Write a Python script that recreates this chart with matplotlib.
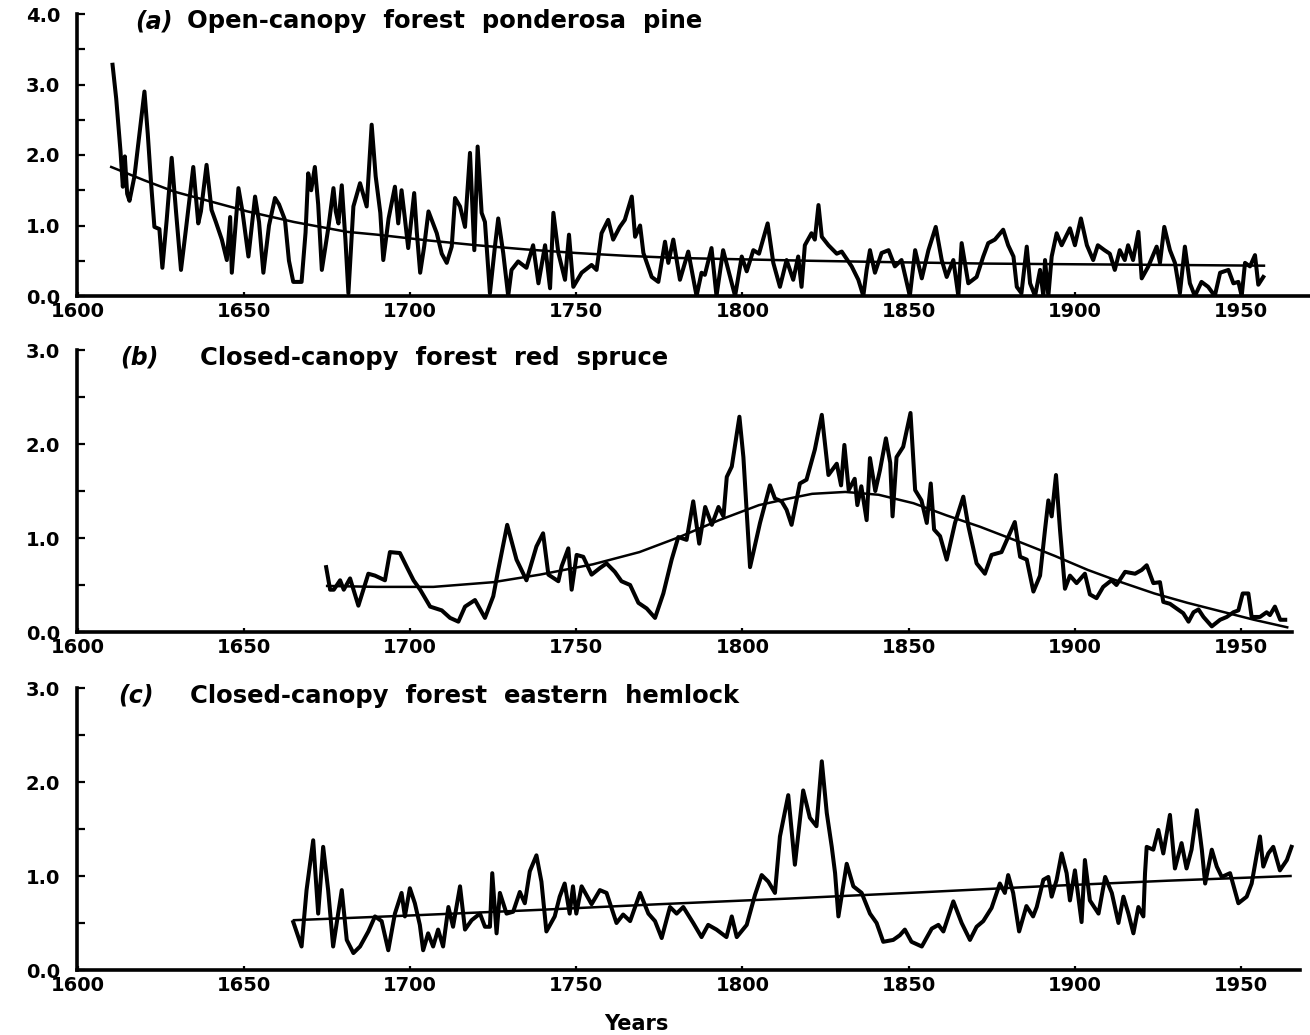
import matplotlib
matplotlib.use("Agg")
import matplotlib.pyplot as plt
from matplotlib.ticker import MultipleLocator, FormatStrFormatter

# ---- (a) open-canopy ponderosa pine: ring-width index ----
pine_years = [
    1610.4, 1611.5, 1612.8, 1613.5, 1614.1, 1614.8, 1615.5, 1617.0, 1618.5, 1620.0,
    1621.0, 1622.0, 1623.0, 1624.5, 1625.4, 1626.7, 1628.2, 1629.5, 1631.0, 1632.5,
    1634.7, 1636.2, 1637.0, 1638.7, 1640.2, 1641.5, 1643.3, 1644.8, 1645.8, 1646.3,
    1648.3, 1649.5, 1651.3, 1653.3, 1654.5, 1655.8, 1657.5, 1659.3, 1660.5, 1662.3,
    1663.5, 1664.8, 1667.3, 1668.5, 1669.3, 1670.2, 1671.3, 1672.3, 1673.4, 1675.4,
    1676.9, 1677.6, 1678.4, 1679.4, 1680.5, 1681.4, 1682.9, 1684.9, 1686.9, 1688.4,
    1689.6, 1691.0, 1691.9, 1693.5, 1695.4, 1696.4, 1697.4, 1698.4, 1699.4, 1701.2,
    1702.0, 1703.0, 1704.2, 1705.5, 1708.0, 1709.5, 1711.0, 1712.5, 1713.5, 1715.0,
    1716.5, 1718.0, 1719.3, 1720.3, 1721.5, 1722.5, 1724.0, 1725.5, 1726.5, 1728.0,
    1729.5, 1730.5, 1732.5, 1735.0, 1737.0, 1738.6, 1740.6, 1742.1, 1743.1, 1744.6,
    1746.6, 1747.8, 1749.1, 1751.6, 1754.6, 1756.1, 1757.6, 1759.6, 1761.1, 1763.1,
    1764.6, 1766.7, 1767.7, 1769.2, 1770.2, 1772.7, 1774.7, 1776.7, 1777.7, 1779.2,
    1781.2, 1783.7, 1786.2, 1787.7, 1788.7, 1790.7, 1792.2, 1794.2, 1796.3, 1797.8,
    1799.8, 1801.3, 1803.3, 1805.0, 1807.6, 1809.3, 1811.3, 1813.3, 1815.3, 1816.8,
    1817.8, 1818.8, 1820.8, 1821.8, 1822.9, 1823.9, 1825.9, 1828.4, 1829.9, 1830.9,
    1832.9, 1834.9, 1836.4, 1837.4, 1838.4, 1839.9, 1841.9, 1844.0, 1845.9, 1847.9,
    1850.4, 1852.0, 1854.0, 1856.0, 1858.2, 1860.0, 1861.5, 1863.5, 1865.0, 1866.0,
    1868.0, 1870.5, 1872.5, 1874.0, 1876.0, 1878.5, 1880.0, 1881.6, 1882.6, 1884.0,
    1885.6, 1886.6, 1888.1, 1889.6, 1890.6, 1891.1, 1892.1, 1893.1, 1894.6, 1896.1,
    1898.6, 1900.1, 1901.9, 1903.7, 1905.6, 1907.0, 1909.0, 1910.6, 1912.1, 1913.6,
    1915.1, 1916.1, 1917.6, 1919.2, 1920.2, 1922.2, 1924.7, 1925.7, 1927.0, 1928.7,
    1930.2, 1931.7, 1933.2, 1934.7, 1936.2, 1938.2, 1940.2, 1942.2, 1943.8, 1946.3,
    1947.8, 1949.3, 1950.3, 1951.3, 1952.8, 1954.3, 1955.3, 1956.8,
]
pine_index = [
    3.28, 2.80, 2.05, 1.55, 1.98, 1.45, 1.35, 1.70, 2.30, 2.90,
    2.30, 1.60, 0.98, 0.95, 0.40, 1.08, 1.96, 1.20, 0.37, 0.95,
    1.83, 1.03, 1.20, 1.86, 1.22, 1.05, 0.80, 0.51, 1.12, 0.33,
    1.53, 1.20, 0.56, 1.41, 1.05, 0.33, 1.00, 1.39, 1.30, 1.08,
    0.50, 0.20, 0.20, 0.90, 1.74, 1.50, 1.83, 1.30, 0.37, 0.98,
    1.53, 1.20, 1.03, 1.57, 0.80, 0.04, 1.27, 1.60, 1.27, 2.43,
    1.70, 1.18, 0.51, 1.10, 1.55, 1.03, 1.50, 1.10, 0.68, 1.46,
    0.90, 0.33, 0.70, 1.20, 0.89, 0.60, 0.47, 0.70, 1.39, 1.27,
    0.98, 2.03, 0.65, 2.12, 1.18, 1.05, 0.04, 0.70, 1.10, 0.61,
    0.00, 0.37, 0.49, 0.40, 0.72, 0.18, 0.72, 0.11, 1.18, 0.61,
    0.23, 0.87, 0.13, 0.33, 0.44, 0.37, 0.89, 1.08, 0.80, 0.98,
    1.08, 1.41, 0.84, 1.00, 0.61, 0.27, 0.20, 0.77, 0.47, 0.80,
    0.23, 0.63, 0.00, 0.33, 0.30, 0.68, 0.00, 0.65, 0.27, 0.00,
    0.56, 0.35, 0.65, 0.60, 1.03, 0.47, 0.13, 0.51, 0.23, 0.56,
    0.13, 0.72, 0.89, 0.80, 1.29, 0.84, 0.72, 0.60, 0.63, 0.56,
    0.42, 0.23, 0.00, 0.37, 0.65, 0.33, 0.61, 0.65, 0.42, 0.51,
    0.00, 0.65, 0.25, 0.65, 0.98, 0.51, 0.27, 0.51, 0.00, 0.75,
    0.18, 0.27, 0.56, 0.75, 0.80, 0.94, 0.72, 0.56, 0.13, 0.04,
    0.70, 0.18, 0.00, 0.37, 0.00, 0.51, 0.00, 0.56, 0.89, 0.72,
    0.96, 0.72, 1.10, 0.72, 0.51, 0.72, 0.65, 0.60, 0.37, 0.65,
    0.51, 0.72, 0.51, 0.91, 0.25, 0.42, 0.70, 0.47, 0.98, 0.65,
    0.47, 0.04, 0.70, 0.18, 0.00, 0.20, 0.13, 0.00, 0.33, 0.37,
    0.18, 0.20, 0.00, 0.47, 0.42, 0.58, 0.16, 0.27,
]
pine_trend_years = [1610, 1620, 1629, 1640, 1651, 1665, 1681, 1690, 1705, 1720,
                    1735, 1750, 1765, 1780, 1800, 1820, 1845, 1873, 1900, 1930, 1957]
pine_trend = [1.83, 1.64, 1.48, 1.34, 1.20, 1.05, 0.91, 0.87, 0.79, 0.72,
              0.66, 0.61, 0.57, 0.54, 0.52, 0.50, 0.48, 0.46, 0.45, 0.44, 0.43]

# ---- (b) closed-canopy red spruce ----
spruce_years = [
    1674.7, 1675.9, 1677.0, 1678.9, 1680.0, 1681.9, 1684.4, 1687.4, 1689.4, 1692.4,
    1693.9, 1696.9, 1699.0, 1701.0, 1703.0, 1706.0, 1709.5, 1712.0, 1714.5, 1716.5,
    1719.5, 1722.5, 1725.0, 1726.5, 1729.2, 1732.0, 1735.0, 1738.0, 1740.0, 1741.6,
    1744.6, 1745.6, 1747.6, 1748.6, 1750.1, 1752.1, 1754.6, 1757.1, 1759.1, 1761.6,
    1763.6, 1766.2, 1768.7, 1771.2, 1773.7, 1776.2, 1778.7, 1780.7, 1783.2, 1785.2,
    1787.0, 1788.8, 1790.8, 1792.8, 1794.3, 1795.3, 1796.8, 1799.1, 1800.3, 1802.3,
    1805.3, 1808.3, 1809.8, 1811.8, 1813.3, 1814.8, 1817.3, 1819.3, 1821.8, 1823.9,
    1825.9, 1828.4, 1829.7, 1830.7, 1832.0, 1833.8, 1834.6, 1835.8, 1837.4, 1838.4,
    1840.0, 1841.4, 1843.2, 1844.5, 1845.2, 1846.4, 1848.4, 1850.6, 1852.0, 1853.9,
    1855.5, 1856.7, 1857.7, 1859.5, 1861.5, 1864.0, 1866.5, 1868.0, 1870.5, 1873.0,
    1875.0, 1878.0, 1882.0, 1883.6, 1885.6, 1887.6, 1889.6, 1891.1, 1892.1, 1893.1,
    1894.4, 1895.6, 1897.1, 1898.6, 1900.6, 1903.1, 1904.6, 1906.6, 1908.6, 1911.1,
    1912.6, 1915.2, 1918.2, 1920.2, 1921.7, 1923.7, 1925.7, 1926.7, 1928.7, 1930.7,
    1932.7, 1934.3, 1935.8, 1937.3, 1938.8, 1941.3, 1943.8, 1945.8, 1947.8, 1949.3,
    1950.6, 1952.3, 1953.3, 1955.8, 1957.8, 1958.8, 1960.3, 1961.9, 1963.4,
]
spruce_index = [
    0.69, 0.45, 0.45, 0.55, 0.45, 0.57, 0.28, 0.62, 0.60, 0.55,
    0.85, 0.84, 0.69, 0.55, 0.45, 0.27, 0.23, 0.15, 0.11, 0.27,
    0.34, 0.15, 0.38, 0.66, 1.14, 0.77, 0.55, 0.91, 1.05, 0.61,
    0.54, 0.70, 0.89, 0.45, 0.82, 0.80, 0.61, 0.68, 0.73, 0.64,
    0.54, 0.50, 0.31, 0.25, 0.15, 0.41, 0.77, 1.01, 0.98, 1.39,
    0.94, 1.33, 1.14, 1.33, 1.23, 1.65, 1.76, 2.29, 1.86, 0.69,
    1.16, 1.56, 1.42, 1.39, 1.30, 1.14, 1.58, 1.62, 1.94, 2.31,
    1.67, 1.79, 1.56, 1.99, 1.51, 1.63, 1.35, 1.55, 1.19, 1.85,
    1.50, 1.72, 2.06, 1.80, 1.23, 1.86, 1.97, 2.33, 1.51, 1.40,
    1.16, 1.58, 1.09, 1.02, 0.77, 1.16, 1.44, 1.13, 0.73, 0.62,
    0.82, 0.85, 1.17, 0.80, 0.77, 0.43, 0.60, 1.09, 1.40, 1.23,
    1.67, 1.09, 0.46, 0.60, 0.52, 0.62, 0.40, 0.36, 0.48, 0.55,
    0.50, 0.64, 0.62, 0.66, 0.71, 0.52, 0.53, 0.32, 0.30, 0.25,
    0.20, 0.11, 0.21, 0.24, 0.16, 0.06, 0.13, 0.16, 0.21, 0.23,
    0.41, 0.41, 0.16, 0.16, 0.21, 0.18, 0.27, 0.13, 0.13,
]
spruce_trend_years = [1675, 1690, 1707, 1725, 1739, 1755, 1769, 1781, 1793, 1805,
                      1814, 1821, 1831, 1841, 1851.5, 1861.5, 1871.5, 1884, 1894,
                      1904, 1914, 1924, 1934, 1944, 1954, 1964]
spruce_trend = [0.49, 0.48, 0.48, 0.53, 0.61, 0.72, 0.85, 1.01, 1.19, 1.35,
                1.42, 1.47, 1.49, 1.46, 1.37, 1.24, 1.12, 0.95, 0.81,
                0.66, 0.53, 0.41, 0.31, 0.22, 0.13, 0.05]

# ---- (c) closed-canopy eastern hemlock ----
hemlock_years = [
    1664.8, 1667.3, 1668.8, 1670.8, 1672.3, 1673.8, 1675.3, 1676.8, 1679.4, 1680.9,
    1682.9, 1684.9, 1687.4, 1689.4, 1691.4, 1693.4, 1695.4, 1697.4, 1698.4, 1699.9,
    1701.4, 1702.9, 1703.9, 1705.4, 1706.9, 1708.4, 1709.9, 1711.5, 1712.9, 1715.0,
    1716.5, 1718.5, 1721.0, 1722.5, 1724.0, 1724.7, 1726.0, 1727.0, 1729.0, 1731.0,
    1733.0, 1734.5, 1736.0, 1738.0, 1739.5, 1741.0, 1743.5, 1745.0, 1746.5, 1748.0,
    1749.0, 1750.0, 1751.6, 1754.6, 1757.1, 1759.1, 1762.1, 1764.1, 1766.2, 1769.2,
    1771.7, 1773.7, 1775.7, 1778.2, 1780.2, 1782.2, 1785.2, 1787.7, 1789.7, 1792.2,
    1795.2, 1796.8, 1798.3, 1801.3, 1803.8, 1805.8, 1807.8, 1809.8, 1811.3, 1813.8,
    1815.8, 1818.3, 1820.3, 1822.3, 1823.9, 1825.4, 1826.9, 1827.9, 1828.9, 1831.4,
    1833.4, 1835.9, 1838.4, 1840.4, 1842.4, 1845.4, 1847.4, 1848.9, 1850.9, 1854.0,
    1857.0, 1859.0, 1860.5, 1863.5, 1866.0, 1868.5, 1870.5, 1872.5, 1875.0, 1877.5,
    1879.0, 1880.0, 1881.5, 1883.3, 1885.5, 1887.5, 1888.6, 1890.6, 1892.1, 1893.1,
    1894.6, 1896.1, 1897.6, 1898.6, 1900.1, 1902.1, 1903.1, 1904.6, 1907.2, 1909.2,
    1911.2, 1913.2, 1914.7, 1916.2, 1917.7, 1919.2, 1920.7, 1921.2, 1921.7, 1923.7,
    1925.2, 1926.7, 1928.7, 1930.2, 1932.2, 1933.7, 1935.2, 1936.8, 1938.3, 1939.3,
    1941.3, 1942.8, 1944.3, 1946.8, 1949.3, 1951.8, 1953.3, 1955.8, 1956.8, 1958.3,
    1959.8, 1961.8, 1963.9, 1965.3,
]
hemlock_index = [
    0.51, 0.25, 0.85, 1.38, 0.60, 1.31, 0.85, 0.25, 0.85, 0.32,
    0.18, 0.25, 0.41, 0.57, 0.52, 0.21, 0.60, 0.82, 0.57, 0.87,
    0.71, 0.48, 0.21, 0.39, 0.25, 0.43, 0.25, 0.67, 0.46, 0.89,
    0.43, 0.53, 0.60, 0.46, 0.46, 1.03, 0.39, 0.82, 0.60, 0.62,
    0.83, 0.71, 1.05, 1.22, 0.94, 0.41, 0.57, 0.78, 0.92, 0.60,
    0.89, 0.60, 0.89, 0.70, 0.85, 0.82, 0.50, 0.59, 0.52, 0.82,
    0.60, 0.52, 0.34, 0.67, 0.60, 0.67, 0.50, 0.35, 0.48, 0.43,
    0.35, 0.57, 0.35, 0.48, 0.80, 1.01, 0.94, 0.82, 1.42, 1.86,
    1.12, 1.91, 1.62, 1.53, 2.22, 1.67, 1.31, 1.03, 0.57, 1.13,
    0.89, 0.82, 0.60, 0.50, 0.30, 0.32, 0.37, 0.43, 0.30, 0.25,
    0.44, 0.48, 0.41, 0.73, 0.50, 0.32, 0.46, 0.52, 0.66, 0.92,
    0.82, 1.01, 0.82, 0.41, 0.68, 0.57, 0.67, 0.96, 0.99, 0.78,
    0.96, 1.24, 1.03, 0.74, 1.06, 0.51, 1.17, 0.74, 0.60, 0.99,
    0.82, 0.50, 0.78, 0.60, 0.39, 0.67, 0.57, 1.03, 1.31, 1.28,
    1.49, 1.24, 1.65, 1.08, 1.35, 1.08, 1.28, 1.70, 1.28, 0.92,
    1.28, 1.10, 0.99, 1.03, 0.71, 0.78, 0.92, 1.42, 1.10, 1.24,
    1.31, 1.06, 1.17, 1.31,
]
hemlock_trend_years = [1665, 1700, 1739, 1775, 1814, 1850, 1890, 1928, 1965]
hemlock_trend = [0.53, 0.58, 0.64, 0.70, 0.76, 0.82, 0.89, 0.95, 1.00]

LETTERS = ["(a)", "(b)", "(c)"]
TITLES = ["Open-canopy  forest  ponderosa  pine",
          "Closed-canopy  forest  red  spruce",
          "Closed-canopy  forest  eastern  hemlock"]
YEAR_TICKS = [1600, 1650, 1700, 1750, 1800, 1850, 1900, 1950]

W, H = 1310, 1035
PX_PER_YEAR = 3.322


def px_to_year(px):
    return 1600 + (px - 78) / PX_PER_YEAR


plt.rcParams["font.family"] = ["DejaVu Sans"]
fig = plt.figure(figsize=(W / 100, H / 100), dpi=100)

# panel frames in pixels: left, right, top (ymax), bottom (0), ymax,
# then letter x, title x, title y
panels = [
    (77, 1310, 14, 296, 4.0, 135, 187, 21),
    (77, 1292, 350, 632, 3.0, 120, 200, 358),
    (77, 1300, 688, 970, 3.0, 118, 190, 696),
]
series = [
    (pine_years, pine_index, pine_trend_years, pine_trend),
    (spruce_years, spruce_index, spruce_trend_years, spruce_trend),
    (hemlock_years, hemlock_index, hemlock_trend_years, hemlock_trend),
]

for (l, r, t, b, ymax, lx, tx, ty), (yr, val, tyr, tval), letter, title in zip(
        panels, series, LETTERS, TITLES):
    ax = fig.add_axes([l / W, 1 - b / H, (r - l) / W, (b - t) / H])
    ax.plot(yr, val, color="black", lw=2.9, solid_joinstyle="round", zorder=3)
    ax.plot(tyr, tval, color="black", lw=1.8, zorder=2)
    ax.set_xlim(px_to_year(l), px_to_year(r))
    ax.set_ylim(0, ymax)
    for s in ("top", "right"):
        ax.spines[s].set_visible(False)
    for s in ("left", "bottom"):
        ax.spines[s].set_linewidth(2.6)
    ax.set_xticks(YEAR_TICKS)
    ax.yaxis.set_major_locator(MultipleLocator(1.0))
    ax.yaxis.set_minor_locator(MultipleLocator(0.5))
    ax.yaxis.set_major_formatter(FormatStrFormatter("%.1f"))
    ax.tick_params(axis="y", which="both", direction="in", length=6, width=1.6,
                   labelsize=14, pad=12)
    ax.tick_params(axis="x", direction="in", length=3, width=1.6, labelsize=14, pad=4)
    for lab in ax.get_xticklabels() + ax.get_yticklabels():
        lab.set_fontweight("bold")

    fig.text(lx / W, 1 - ty / H, letter, ha="left", va="center",
             fontsize=17, fontweight="bold", fontstyle="italic")
    fig.text(tx / W, 1 - ty / H, title, ha="left", va="center",
             fontsize=17.5, fontweight="bold")

fig.text(636 / W, 1 - 1024 / H, "Years", ha="center", va="center",
         fontsize=15, fontweight="bold")

fig.savefig("out.png", dpi=100)
